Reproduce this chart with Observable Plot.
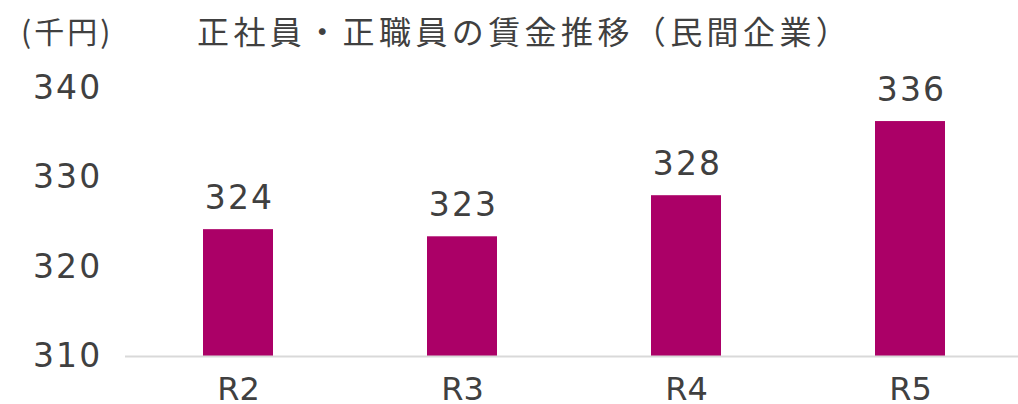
<!DOCTYPE html>
<html>
<head>
<meta charset="utf-8">
<script src="https://cdn.jsdelivr.net/npm/d3@7"></script>
<script src="https://cdn.jsdelivr.net/npm/@observablehq/plot@0.6"></script>
<style>
  html, body { margin: 0; padding: 0; background: #fff; }
  #wrap { position: relative; width: 1018px; height: 404px; overflow: hidden; }
  .ttl { position: absolute; font-family: "Noto Sans CJK JP", sans-serif; color: #404040; white-space: nowrap; line-height: 1; }
  #unit { left: 21px; top: 15px; font-size: 30px; letter-spacing: 3px; }
  #title { left: 197px; top: 14px; font-size: 32px; letter-spacing: 4.4px; }
  #wrap svg { position: absolute; left: 0; top: 0; }
  #wrap svg text { letter-spacing: 2.2px; }
  #wrap svg g[aria-label="x-axis tick label"] text { letter-spacing: 0px; }
</style>
</head>
<body>
<div id="wrap">
  <div id="unit" class="ttl">(千円)</div>
  <div id="title" class="ttl">正社員・正職員の賃金推移（民間企業）</div>
</div>
<script>
const categories = ["R2", "R3", "R4", "R5"];
const values = [324.2, 323.4, 328.0, 336.3];
const labels = ["324", "323", "328", "336"];
const yTicks = [310, 320, 330, 340];

const data = categories.map((c, i) => ({cat: c, value: values[i], label: labels[i]}));
const yBase = yTicks[0];
const font = "DejaVu Sans, sans-serif";

const chart = Plot.plot({
  width: 1018,
  height: 404,
  marginLeft: 125,
  marginRight: 0,
  marginTop: 88,
  marginBottom: 48,
  style: {fontFamily: font, color: "#404040", background: "transparent"},
  x: {domain: categories, range: [125.25, 1023.25], paddingInner: 0.686, paddingOuter: 0.343},
  y: {domain: [yTicks[0], yTicks[yTicks.length - 1]]},
  marks: [
    Plot.barY(data, {x: "cat", y1: () => yBase, y2: "value", fill: "#ab0067"}),
    Plot.ruleY([yBase], {stroke: "#d9d9d9", strokeWidth: 2}),
    Plot.text(data, {x: "cat", y: "value", text: "label", dy: -31, dx: 1, fontSize: 33, fill: "#404040"}),
    Plot.axisY({ticks: yTicks, tickSize: 0, tickPadding: 23, fontSize: 33, label: null, fill: "#404040"}),
    Plot.axisX({tickSize: 0, tickPadding: 21, fontSize: 32, label: null, fill: "#404040"})
  ]
});
document.getElementById("wrap").prepend(chart);
</script>
</body>
</html>
